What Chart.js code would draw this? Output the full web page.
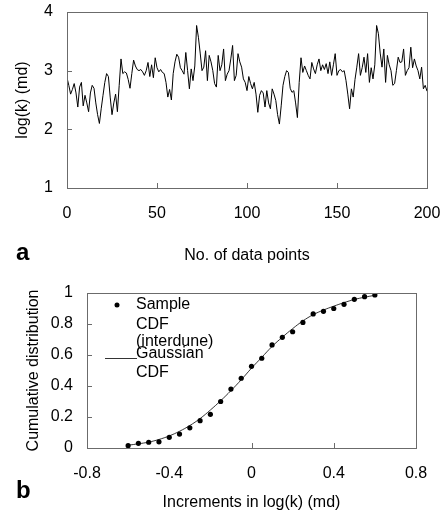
<!DOCTYPE html>
<html>
<head>
<meta charset="utf-8">
<script src="https://cdn.jsdelivr.net/npm/chart.js@4.4.1/dist/chart.umd.min.js"></script>
<style>
  html, body { margin: 0; padding: 0; background: #fff; }
  body { width: 447px; height: 512px; position: relative; overflow: hidden; font-family: 'Liberation Sans', Arial, sans-serif; }
  canvas { position: absolute; left: 0; }
  #chartA { top: 0; }
  #chartB { top: 265px; }
  .panel { position: absolute; font-weight: bold; font-size: 24px; line-height: 24px; color: #000; }
</style>
</head>
<body>
<canvas id="chartA" width="447" height="265"></canvas>
<canvas id="chartB" width="447" height="247"></canvas>
<div class="panel" style="left:16px; top:240px;">a</div>
<div class="panel" style="left:16px; top:478px;">b</div>
<script>
// panel a: log(k) along the series
const logK = [
  2.88, 2.75, 2.60, 2.68, 2.78, 2.62, 2.38, 2.72, 2.80, 2.40,
  2.58, 2.45, 2.30, 2.62, 2.75, 2.70, 2.45, 2.25, 2.10, 2.35,
  2.58, 2.80, 2.95, 2.90, 2.55, 2.25, 2.45, 2.60, 2.30, 2.75,
  3.20, 2.95, 2.98, 2.96, 2.85, 2.70, 2.95, 3.18, 3.08, 3.02,
  3.00, 3.02, 2.98, 2.92, 3.00, 3.14, 2.90, 3.10, 2.88, 3.22,
  3.05, 2.98, 3.02, 2.97, 2.95, 2.80, 2.55, 2.68, 2.50, 2.95,
  3.15, 3.28, 3.23, 3.05, 3.00, 2.94, 3.31, 3.00, 2.69, 3.03,
  2.83, 3.08, 3.77, 3.57, 3.30, 3.00, 3.06, 3.34, 2.83, 3.26,
  3.15, 3.00, 2.78, 2.72, 3.26, 3.00, 3.10, 3.37, 2.83, 2.94,
  3.00, 3.20, 3.43, 2.83, 2.92, 3.29, 3.15, 3.06, 2.86, 2.80,
  2.66, 2.90, 2.78, 2.69, 2.80, 2.60, 2.29, 2.58, 2.66, 2.62,
  2.38, 2.66, 2.45, 2.35, 2.69, 2.60, 2.49, 2.25, 2.09, 2.40,
  2.75, 2.90, 3.00, 2.97, 2.70, 2.63, 2.66, 2.45, 2.20, 2.80,
  3.22, 2.97, 3.08, 3.00, 2.92, 2.86, 3.14, 3.03, 2.95, 3.10,
  3.20, 3.00, 3.10, 3.02, 3.12, 2.95, 3.15, 2.92, 3.10, 3.29,
  2.92, 3.00, 3.02, 2.98, 3.00, 2.83, 2.60, 2.35, 2.69, 2.55,
  2.85, 3.06, 3.29, 2.92, 3.05, 3.23, 2.97, 3.29, 2.80, 3.05,
  2.86, 3.10, 3.77, 3.63, 3.30, 3.06, 3.37, 2.80, 3.26, 3.10,
  3.00, 2.75, 2.78, 3.00, 3.23, 3.14, 3.15, 3.37, 2.92, 3.00,
  3.05, 3.40, 3.05, 3.20, 3.08, 3.00, 2.86, 3.06, 2.69, 2.75,
  2.65,
];
const aXTicks = [0, 50, 100, 150, 200];
const aYTicks = [1, 2, 3, 4];

// panel b: sample CDF and the Gaussian CDF curve
const increments = [
  -0.60, -0.55, -0.50, -0.45, -0.40, -0.35, -0.30, -0.25, -0.20, -0.15,
  -0.10, -0.05, 0.00, 0.05, 0.10, 0.15, 0.20, 0.25, 0.30, 0.35,
  0.40, 0.45, 0.50, 0.55, 0.60,
];
const sampleCdf = [
  0.015, 0.030, 0.037, 0.040, 0.069, 0.090, 0.130, 0.176, 0.217, 0.300,
  0.380, 0.450, 0.527, 0.579, 0.665, 0.714, 0.750, 0.810, 0.865, 0.882,
  0.900, 0.927, 0.959, 0.976, 0.987,
];
const gaussianCdf = [
  0.018, 0.027, 0.038, 0.055, 0.078, 0.108, 0.145, 0.190, 0.245, 0.305,
  0.370, 0.440, 0.515, 0.585, 0.655, 0.715, 0.770, 0.820, 0.860, 0.890,
  0.915, 0.938, 0.958, 0.973, 0.985,
];
const bXTicks = [-0.8, -0.4, 0, 0.4, 0.8];
const bYTicks = [0, 0.2, 0.4, 0.6, 0.8, 1];

const FONT = "'Liberation Sans', Arial, sans-serif";
const frameColor = '#6b6b6b';

// box round the plot area plus short tick marks pointing inwards
const frameTicks = {
  id: 'frameTicks',
  afterDraw(chart, args, opts) {
    const { ctx, chartArea: a, scales } = chart;
    ctx.save();
    ctx.strokeStyle = frameColor;
    ctx.lineWidth = 1;
    ctx.strokeRect(Math.round(a.left) + 0.5, Math.round(a.top) + 0.5,
      Math.round(a.right - a.left), Math.round(a.bottom - a.top));
    ctx.beginPath();
    (opts.x || []).forEach((v) => {
      const px = Math.round(scales.x.getPixelForValue(v)) + 0.5;
      ctx.moveTo(px, a.bottom);
      ctx.lineTo(px, a.bottom - 5);
    });
    (opts.y || []).forEach((v) => {
      const py = Math.round(scales.y.getPixelForValue(v)) + 0.5;
      ctx.moveTo(a.left, py);
      ctx.lineTo(a.left + 5, py);
    });
    ctx.stroke();
    ctx.restore();
  },
};

// hand-made legend for panel b (the labels wrap over several lines)
const cdfLegend = {
  id: 'cdfLegend',
  afterDraw(chart) {
    const { ctx } = chart;
    ctx.save();
    ctx.fillStyle = '#000';
    ctx.strokeStyle = '#000';
    ctx.font = `16px ${FONT}`;
    ctx.textBaseline = 'middle';
    ctx.beginPath();
    ctx.arc(117, 40, 2.5, 0, Math.PI * 2);
    ctx.fill();
    ctx.fillText('Sample', 136, 40);
    ctx.fillText('CDF', 136, 60);
    ctx.fillText('(interdune)', 136, 77);
    ctx.fillText('Gaussian', 136, 89);
    ctx.fillText('CDF', 136, 108);
    ctx.lineWidth = 0.8;
    ctx.beginPath();
    ctx.moveTo(105, 93.5);
    ctx.lineTo(137, 93.5);
    ctx.stroke();
    ctx.restore();
  },
};

// pin the axis box size and drop the label overflow padding,
// so the plot area is set by layout.padding alone
function fixedAxis(size, vertical) {
  return (scale) => {
    if (vertical) scale.width = size;
    else scale.height = size;
    scale.paddingTop = 0;
    scale.paddingBottom = 0;
    scale.paddingLeft = 0;
    scale.paddingRight = 0;
  };
}

function tickList(values) {
  return (scale) => { scale.ticks = values.map((v) => ({ value: v })); };
}

const tickFont = { family: FONT, size: 16 };
const plainLabel = (v) => String(v);

function axisOptions(extra) {
  return {
    type: 'linear',
    border: { display: false },
    grid: { display: false, drawTicks: false },
    ticks: { color: '#000', font: tickFont, padding: 14, callback: plainLabel },
    title: { display: true, color: '#000', font: tickFont },
    ...extra,
  };
}

function renderSeries() {
  const points = logK.map((v, i) => ({ x: i, y: v }));
  new Chart(document.getElementById('chartA'), {
    type: 'line',
    data: {
      datasets: [{
        data: points,
        borderColor: '#000',
        borderWidth: 1,
        pointRadius: 0,
        tension: 0,
      }],
    },
    options: {
      responsive: false,
      animation: false,
      layout: { padding: { top: 12, right: 20, left: 0, bottom: 0 } },
      plugins: {
        legend: { display: false },
        tooltip: { enabled: false },
        frameTicks: { x: [50, 100, 150], y: [2, 3] },
      },
      scales: {
        x: axisOptions({
          min: 0, max: 200,
          afterFit: fixedAxis(77, false),
          afterBuildTicks: tickList(aXTicks),
          ticks: { color: '#000', font: tickFont, padding: 16, maxRotation: 0, callback: plainLabel },
          title: { display: true, text: 'No. of data points', color: '#000', font: tickFont, padding: { top: 0, bottom: 0 } },
        }),
        y: axisOptions({
          min: 1, max: 4,
          afterFit: fixedAxis(67, true),
          afterBuildTicks: tickList(aYTicks),
          title: { display: true, text: 'log(k) (md)', color: '#000', font: tickFont, padding: { top: 13, bottom: 0 } },
        }),
      },
    },
    plugins: [frameTicks],
  });
}

function renderCdf() {
  const samplePts = increments.map((x, i) => ({ x, y: sampleCdf[i] }));
  const curvePts = increments.map((x, i) => ({ x, y: gaussianCdf[i] }));
  new Chart(document.getElementById('chartB'), {
    type: 'scatter',
    data: {
      datasets: [
        {
          label: 'Gaussian CDF',
          data: curvePts,
          showLine: true,
          borderColor: '#000',
          borderWidth: 0.8,
          pointRadius: 0,
          tension: 0.4,
        },
        {
          label: 'Sample CDF (interdune)',
          data: samplePts,
          backgroundColor: '#000',
          borderColor: '#000',
          pointRadius: 2.6,
          borderWidth: 0,
        },
      ],
    },
    options: {
      responsive: false,
      animation: false,
      layout: { padding: { top: 28, right: 31, left: 0, bottom: 0 } },
      plugins: {
        legend: { display: false },
        tooltip: { enabled: false },
        frameTicks: { x: [0, 0.4], y: [0.2, 0.4, 0.6, 0.8] },
      },
      scales: {
        x: axisOptions({
          min: -0.8, max: 0.8,
          afterFit: fixedAxis(64, false),
          afterBuildTicks: tickList(bXTicks),
          ticks: { color: '#000', font: tickFont, padding: 16, maxRotation: 0, callback: plainLabel },
          title: { display: true, text: 'Increments in log(k) (md)', color: '#000', font: tickFont, padding: { top: 0, bottom: 0 } },
        }),
        y: axisOptions({
          min: 0, max: 1,
          afterFit: fixedAxis(87, true),
          afterBuildTicks: tickList(bYTicks),
          title: { display: true, text: 'Cumulative distribution', color: '#000', font: tickFont, padding: { top: 24, bottom: 0 } },
        }),
      },
    },
    plugins: [frameTicks, cdfLegend],
  });
}

function bootstrap() {
  renderSeries();
  renderCdf();
}

document.addEventListener('DOMContentLoaded', bootstrap);
</script>
</body>
</html>
